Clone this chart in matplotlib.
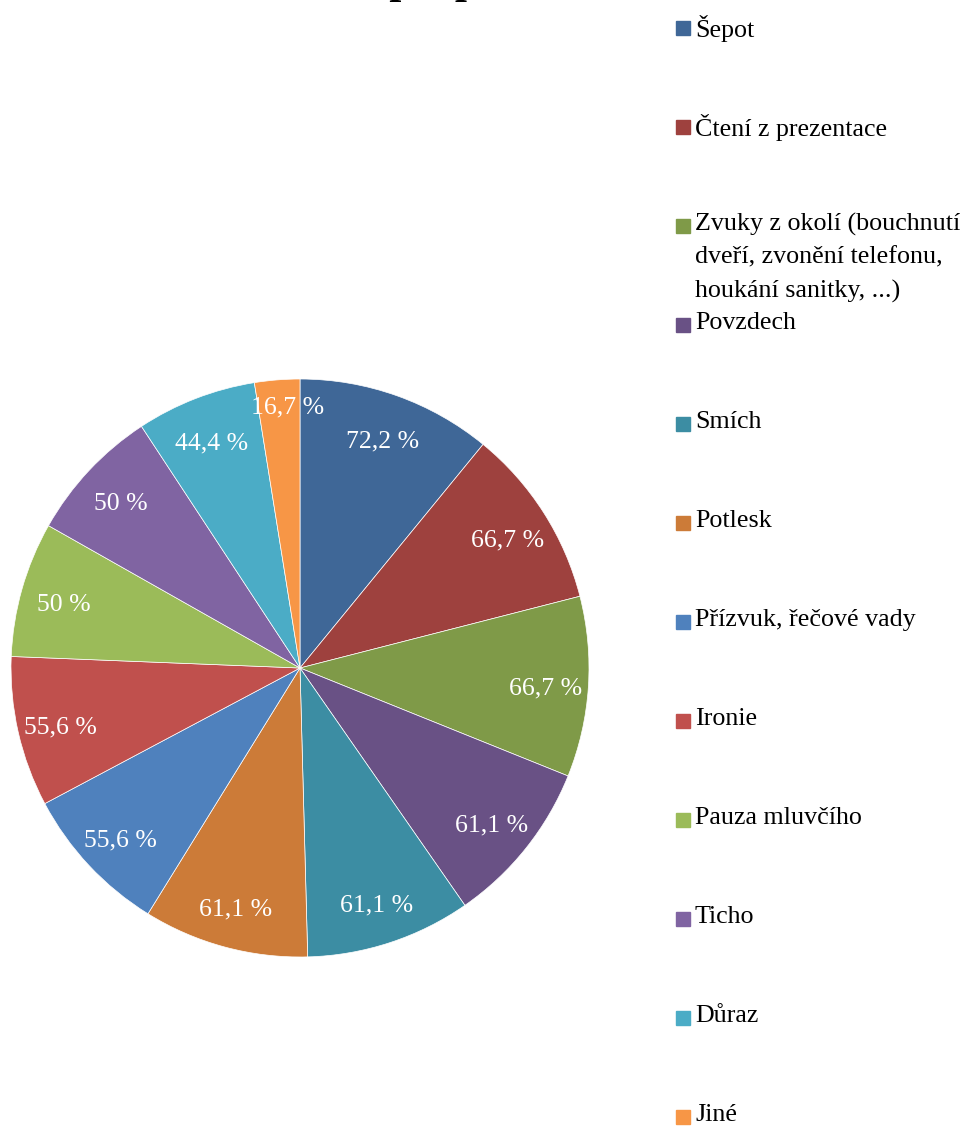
import numpy as np
import matplotlib.pyplot as plt
from matplotlib.patches import Rectangle

plt.rcParams['font.family'] = ['Liberation Serif', 'DejaVu Serif']

categories = ['Šepot', 'Čtení z prezentace',
              'Zvuky z okolí (bouchnutí\ndveří, zvonění telefonu,\nhoukání sanitky, ...)',
              'Povzdech', 'Smích', 'Potlesk', 'Přízvuk, řečové vady', 'Ironie',
              'Pauza mluvčího', 'Ticho', 'Důraz', 'Jiné']
values = [72.2, 66.7, 66.7, 61.1, 61.1, 61.1, 55.6, 55.6, 50, 50, 44.4, 16.7]
colors = ['#3F6797', '#9E413E', '#7F9A48', '#695185', '#3C8DA3', '#CC7B38',
          '#4F81BD', '#C0504D', '#9BBB59', '#8064A2', '#4BACC6', '#F79646']

W, H = 970, 1126
fig = plt.figure(figsize=(W / 100, H / 100), dpi=100)

# pie centred at (300, 668) px, radius ~289 px
cx, cy, r = 300, 668, 289
ax = fig.add_axes([(cx - r) / W, (H - cy - r) / H, 2 * r / W, 2 * r / H])
wedges, _ = ax.pie(values, colors=colors, startangle=90, counterclock=False,
                   wedgeprops=dict(edgecolor='white', linewidth=0.5))
ax.set_xlim(-1, 1)
ax.set_ylim(-1, 1)
ax.set_aspect('equal')
ax.axis('off')

for w, v in zip(wedges, values):
    mid = np.deg2rad((w.theta1 + w.theta2) / 2)
    d = 0.85 if v > 20 else 0.92
    txt = f'{v:g}'.replace('.', ',') + ' %'
    ax.text(d * np.cos(mid) + (0.03 if v < 20 else 0), d * np.sin(mid) - 0.015,
            txt, color='white', fontsize=18.5, ha='center', va='center')

# title, mostly above the top edge
fig.text(0.463, 1.0 + 7 / H, 'Rušení při prezentaci', fontsize=31,
         fontweight='bold', ha='center', va='baseline')

# legend drawn as fixed-pitch entries
for i, (lab, col) in enumerate(zip(categories, colors)):
    yc = 28 + i * 99
    fig.patches.append(Rectangle((676 / W, (H - yc - 7) / H), 14 / W, 14 / H,
                                 transform=fig.transFigure, color=col))
    fig.text(695 / W, (H - yc + 13) / H, lab, fontsize=18.7, ha='left',
             va='top', linespacing=1.62)

fig.savefig('out.png', dpi=100)
